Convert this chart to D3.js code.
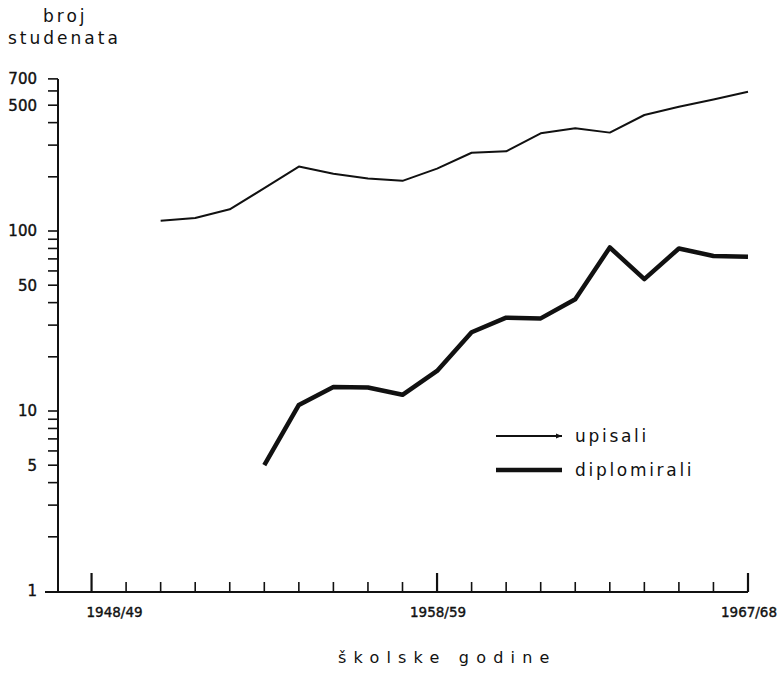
<!DOCTYPE html>
<html>
<head>
<meta charset="utf-8">
<script src="https://cdn.jsdelivr.net/npm/d3@7"></script>
<style>
  html, body { margin: 0; padding: 0; background: #fff; }
  svg { display: block; }
  text { font-family: "DejaVu Sans", sans-serif; fill: #111; }
</style>
</head>
<body>
<svg id="chart" width="782" height="673"></svg>
<script>
// ---- data ----
const years = [1950,1951,1952,1953,1954,1955,1956,1957,1958,1959,1960,1961,1962,1963,1964,1965,1966,1967];
const upisali = [114,118,132,173,228,208,196,190,222,272,277,349,372,352,441,490,538,594];
const diplomYears = [1953,1954,1955,1956,1957,1958,1959,1960,1961,1962,1963,1964,1965,1966,1967];
const diplomirali = [5,10.8,13.6,13.5,12.3,16.7,27.4,33,32.7,41.8,81,54,80,72.6,72];
const yTickLabels = [1,5,10,50,100,500,700];
const yMinorTicks = [2,3,4,6,7,8,9,20,30,40,60,70,80,90,200,300,400,600];
const xTickYears = d3.range(1948, 1968);
const xLabels = [{year:1948, text:"1948/49"}, {year:1958, text:"1958/59"}, {year:1967, text:"1967/68"}];
const legendItems = [{name:"upisali", width:2}, {name:"diplomirali", width:4.5}];

// ---- scales ----
const svg = d3.select("#chart");
const x = d3.scaleLinear().domain([1947, 1967]).range([57, 748]);
const y = d3.scaleLog().domain([1, 1000]).range([591, 51]);
const baseY = 592;
const ink = "#111";

// ---- y axis ----
svg.append("line").attr("x1", 58).attr("x2", 58)
  .attr("y1", y(700)).attr("y2", baseY)
  .attr("stroke", ink).attr("stroke-width", 2);
svg.selectAll(".ytick").data(yTickLabels.concat(yMinorTicks).filter(d => d !== 1))
  .join("line")
  .attr("x1", 48).attr("x2", 58)
  .attr("y1", d => y(d)).attr("y2", d => y(d))
  .attr("stroke", ink).attr("stroke-width", 1.6);
svg.selectAll(".ylab").data(yTickLabels).join("text")
  .attr("x", 37).attr("y", d => y(d)).attr("dy", "0.36em")
  .attr("text-anchor", "end")
  .style("font-size", "15px")
  .style("stroke", ink).style("stroke-width", "0.4px")
  .text(d => d);

// ---- x axis ----
svg.append("line").attr("x1", 45).attr("x2", x(1967))
  .attr("y1", baseY).attr("y2", baseY)
  .attr("stroke", ink).attr("stroke-width", 2);
const majorYears = xLabels.map(d => d.year);
svg.selectAll(".xtick").data(xTickYears).join("line")
  .attr("x1", d => x(d)).attr("x2", d => x(d))
  .attr("y1", d => majorYears.includes(d) ? baseY - 19 : baseY - 10)
  .attr("y2", baseY)
  .attr("stroke", ink).attr("stroke-width", d => majorYears.includes(d) ? 2.2 : 1.6);
svg.selectAll(".xlab").data(xLabels).join("text")
  .attr("x", d => x(d.year) + (d.year === 1948 ? 23 : 1))
  .attr("y", 617)
  .attr("text-anchor", "middle")
  .style("font-size", "13.5px")
  .style("stroke", ink).style("stroke-width", "0.4px")
  .text(d => d.text);

// ---- axis titles ----
svg.append("text").attr("x", 43).attr("y", 22)
  .style("font-size", "17px").style("letter-spacing", "3px").text("broj");
svg.append("text").attr("x", 8).attr("y", 44)
  .style("font-size", "17px").style("letter-spacing", "3px").text("studenata");
svg.append("text").attr("x", 338).attr("y", 663)
  .style("font-size", "16px").style("letter-spacing", "7.2px").text("školske godine");

// ---- lines ----
const lineGen = d3.line().x(d => x(d[0])).y(d => y(d[1]));
svg.append("path")
  .datum(years.map((yr, i) => [yr, upisali[i]]))
  .attr("d", lineGen)
  .attr("fill", "none").attr("stroke", ink).attr("stroke-width", 2)
  .attr("stroke-linejoin", "round");
svg.append("path")
  .datum(diplomYears.map((yr, i) => [yr, diplomirali[i]]))
  .attr("d", lineGen)
  .attr("fill", "none").attr("stroke", ink).attr("stroke-width", 4.5)
  .attr("stroke-linejoin", "round");

// ---- legend ----
const lg = svg.append("g").attr("transform", "translate(496,436)");
legendItems.forEach((it, i) => {
  const gy = i * 34;
  lg.append("line").attr("x1", 0).attr("x2", 66).attr("y1", gy).attr("y2", gy)
    .attr("stroke", ink).attr("stroke-width", it.width);
  if (i === 0) {
    lg.append("path").attr("d", `M60,${gy-2.5} L66,${gy} L60,${gy+2.5} Z`).attr("fill", ink);
  }
  lg.append("text").attr("x", 79).attr("y", gy + 6)
    .style("font-size", "17px").style("letter-spacing", "2.7px")
    .text(it.name);
});
</script>
</body>
</html>
